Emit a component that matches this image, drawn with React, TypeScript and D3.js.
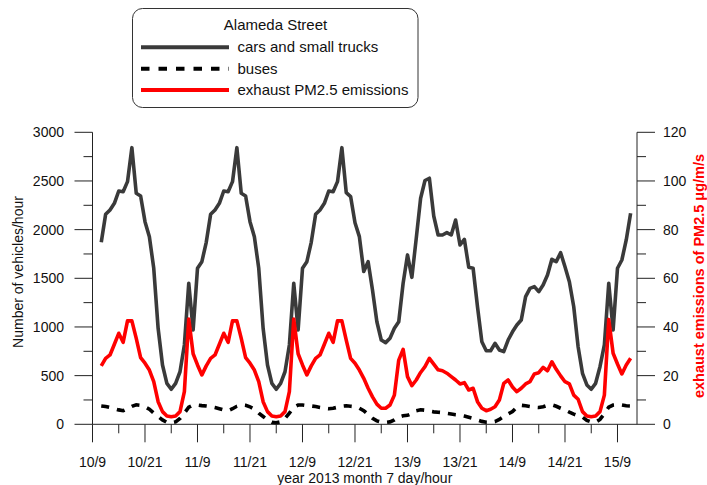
import React from 'react';
import * as d3 from 'd3';

// hours counted from 10/9 (day 10, hour 9); first sample is 10/11
const firstHour = 2;

const xTickLabels = ['10/9', '10/21', '11/9', '11/21', '12/9', '12/21', '13/9', '13/21', '14/9', '14/21', '15/9'];
const leftTicks = [0, 500, 1000, 1500, 2000, 2500, 3000];
const rightTicks = [0, 20, 40, 60, 80, 100, 120];

const seriesNames = ['cars and small trucks', 'buses', 'exhaust PM2.5 emissions'];

const carsAndSmallTrucks = [
  // 10 July 11:00-23:00
  1870, 2157, 2202, 2270, 2397, 2390, 2493, 2842, 2373, 2346, 2082, 1928, 1603,
  // 11 July
  986, 609, 421, 360, 421, 540, 815, 1449, 969, 1603, 1671, 1870, 2157, 2202, 2270, 2397, 2390, 2493, 2842, 2373, 2346, 2082, 1928, 1603,
  // 12 July
  986, 609, 421, 360, 421, 540, 815, 1449, 969, 1603, 1671, 1870, 2157, 2202, 2270, 2397, 2390, 2493, 2842, 2380, 2340, 2070, 1928, 1570,
  // 13 July
  1671, 1380, 1054, 866, 839, 884, 986, 1054, 1449, 1740, 1510, 1910, 2322, 2505, 2528, 2140, 1945, 1945, 1969, 1945, 2099, 1842, 1900, 1613,
  // 14 July
  1603, 1208, 849, 756, 756, 832, 763, 746, 866, 950, 1020, 1071, 1311, 1397, 1414, 1363, 1431, 1534, 1695, 1671, 1763, 1619, 1465, 1208,
  // 15 July 0:00-12:00
  797, 524, 404, 360, 421, 592, 815, 1449, 969, 1603, 1688, 1894, 2168,
];

const buses = [
  188, 182, 172, 160, 148, 140, 160, 185, 200, 195, 180, 155, 115,
  80, 45, 20, 15, 25, 60, 115, 175, 198, 198, 192, 188, 182, 172, 160, 148, 140, 160, 185, 200, 195, 180, 155, 115,
  80, 45, 20, 15, 25, 60, 115, 175, 198, 198, 192, 188, 182, 172, 165, 160, 165, 175, 185, 190, 185, 180, 165, 140,
  100, 62, 35, 22, 20, 25, 45, 75, 88, 92, 110, 140, 150, 145, 135, 128, 124, 120, 112, 105, 99, 95, 85, 72,
  60, 45, 30, 22, 20, 28, 50, 80, 106, 130, 175, 195, 190, 182, 175, 172, 180, 195, 200, 185, 165, 147, 125, 105,
  88, 75, 40, 24, 22, 50, 110, 175, 198, 202, 198, 190, 188,
];

const pm25Emissions = [
  24.0, 27.1, 28.5, 32.9, 37.4, 33.7, 42.5, 42.5, 35.3, 27.4, 25.1, 22.3, 17.5,
  9.3, 5.2, 3.4, 3.1, 3.4, 5.2, 13.4, 43.3, 29.0, 24.4, 20.3, 24.0, 27.1, 28.5, 32.9, 37.4, 33.7, 42.5, 42.5, 35.3, 27.4, 25.1, 22.3, 17.5,
  9.3, 5.2, 3.4, 3.1, 3.4, 5.2, 13.4, 43.3, 29.0, 24.4, 20.3, 24.0, 27.1, 28.5, 32.9, 37.4, 33.7, 42.5, 42.5, 34.6, 27.1, 25.1, 22.3, 18.9,
  14.8, 11.3, 8.3, 6.6, 6.6, 7.9, 12.0, 26.4, 30.8, 19.6, 15.9, 18.2, 21.3, 23.7, 27.1, 24.7, 22.4, 22.0, 21.0, 19.6, 18.2, 16.6, 17.1, 14.1,
  14.8, 9.3, 6.6, 5.6, 6.2, 7.2, 10.0, 16.8, 18.2, 15.3, 13.4, 14.8, 16.6, 17.5, 20.7, 21.2, 23.4, 22.0, 25.7, 22.6, 19.9, 17.5, 16.6, 12.0,
  10.3, 5.2, 3.4, 3.1, 3.4, 5.2, 12.0, 43.1, 29.2, 24.8, 20.7, 24.4, 27.1,
];

const FONT = "'Liberation Sans', Arial, Helvetica, sans-serif";
const W = 707;
const H = 485;
const left = 92.5;
const right = 637;
const top = 132.3;
const bottom = 424.3;

export default function App() {
  const x = d3.scaleLinear().domain([0, 124.46]).range([left, right]);
  const yL = d3.scaleLinear().domain([0, 3000]).range([bottom, top]);
  const yR = d3.scaleLinear().domain([0, 120]).range([bottom, top]);

  const lineL = d3
    .line<number>()
    .x((_, i) => x(firstHour + i))
    .y((d) => yL(d));
  const lineR = d3
    .line<number>()
    .x((_, i) => x(firstHour + i))
    .y((d) => yR(d));

  const majorX = xTickLabels.map((_, i) => i * 12);
  const minorX = xTickLabels.slice(0, -1).map((_, i) => i * 12 + 6);
  const minorL = leftTicks.slice(0, -1).map((v, i) => (v + leftTicks[i + 1]) / 2);
  const minorR = rightTicks.slice(0, -1).map((v, i) => (v + rightTicks[i + 1]) / 2);

  const axisColor = '#222';
  const carColor = '#3a3a3a';
  const red = '#ff0000';

  const legendRows = [
    { name: seriesNames[0], stroke: carColor, dash: undefined as string | undefined },
    { name: seriesNames[1], stroke: '#000', dash: '8.5,9' },
    { name: seriesNames[2], stroke: red, dash: undefined },
  ];

  return (
    <svg
      width={W}
      height={H}
      style={{ position: 'absolute', left: 0, top: 0, background: '#fff' }}
      fontFamily={FONT}
    >
      <rect x={0} y={0} width={W} height={H} fill="#fff" />

      {/* series */}
      <path d={lineL(buses) || ''} fill="none" stroke="#000" strokeWidth={3.6} strokeDasharray="8,8" />
      <path d={lineL(carsAndSmallTrucks) || ''} fill="none" stroke={carColor} strokeWidth={3.6} strokeLinejoin="round" />
      <path d={lineR(pm25Emissions) || ''} fill="none" stroke={red} strokeWidth={3.6} strokeLinejoin="round" />

      {/* left axis */}
      <line x1={left} x2={left} y1={top} y2={bottom} stroke={axisColor} strokeWidth={1} />
      {leftTicks.map((v) => (
        <g key={'l' + v}>
          <line x1={left - 18} x2={left} y1={yL(v)} y2={yL(v)} stroke={axisColor} strokeWidth={1} />
          <text x={64} y={yL(v)} dy="0.35em" textAnchor="end" fontSize={14} fill="#111">
            {v}
          </text>
        </g>
      ))}
      {minorL.map((v) => (
        <line key={'lm' + v} x1={left - 9} x2={left} y1={yL(v)} y2={yL(v)} stroke={axisColor} strokeWidth={1} />
      ))}
      <text
        transform={`translate(22.5, 272) rotate(-90)`}
        textAnchor="middle"
        fontSize={14}
        fill="#111"
      >
        Number of vehicles/hour
      </text>

      {/* right axis */}
      <line x1={right} x2={right} y1={top} y2={bottom} stroke={axisColor} strokeWidth={1} />
      {rightTicks.map((v) => (
        <g key={'r' + v}>
          <line x1={right} x2={right + 18} y1={yR(v)} y2={yR(v)} stroke={axisColor} strokeWidth={1} />
          <text x={663} y={yR(v)} dy="0.35em" textAnchor="start" fontSize={14} fill="#111">
            {v}
          </text>
        </g>
      ))}
      {minorR.map((v) => (
        <line key={'rm' + v} x1={right} x2={right + 9} y1={yR(v)} y2={yR(v)} stroke={axisColor} strokeWidth={1} />
      ))}
      <text
        transform={`translate(704, 276) rotate(-90)`}
        textAnchor="middle"
        fontSize={14.5}
        fontWeight="bold"
        fill={red}
      >
        exhaust emissions of PM2.5 μg/m/s
      </text>

      {/* bottom axis */}
      <line x1={left} x2={right} y1={bottom} y2={bottom} stroke={axisColor} strokeWidth={1} />
      {majorX.map((h, i) => (
        <g key={'x' + h}>
          <line x1={x(h)} x2={x(h)} y1={bottom} y2={bottom + 18} stroke={axisColor} strokeWidth={1} />
          <text x={x(h)} y={466.5} textAnchor="middle" fontSize={14} fill="#111">
            {xTickLabels[i]}
          </text>
        </g>
      ))}
      {minorX.map((h) => (
        <line key={'xm' + h} x1={x(h)} x2={x(h)} y1={bottom} y2={bottom + 9} stroke={axisColor} strokeWidth={1} />
      ))}
      <text x={(left + right) / 2} y={482.5} textAnchor="middle" fontSize={14} fill="#111">
        year 2013 month 7 day/hour
      </text>

      {/* legend */}
      <rect x={132.5} y={8.5} width={285.5} height={99} rx={10} ry={10} fill="#fff" stroke="#333" strokeWidth={1} />
      <text x={275.5} y={30} textAnchor="middle" fontSize={15} fill="#111">
        Alameda Street
      </text>
      {legendRows.map((r, i) => {
        const ly = 47.3 + i * 21.4;
        return (
          <g key={r.name}>
            <line
              x1={141}
              x2={229}
              y1={ly}
              y2={ly}
              stroke={r.stroke}
              strokeWidth={4}
              strokeDasharray={r.dash}
            />
            <text x={237.5} y={ly + 5} fontSize={15} fill="#111">
              {r.name}
            </text>
          </g>
        );
      })}
    </svg>
  );
}
